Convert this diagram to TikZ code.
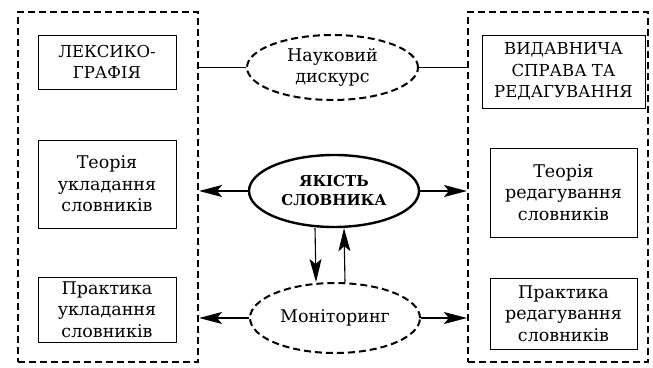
\documentclass[tikz,border=0pt]{standalone}
\usepackage{fontspec}
\setmainfont{DejaVu Serif}
\usetikzlibrary{arrows.meta,shapes.geometric}

\begin{document}
\begin{tikzpicture}
  [x=1pt,y=-1pt,
   every node/.style={align=center,inner sep=0pt,font=\fontsize{17.5}{21.5}\selectfont},
   caps/.style={font=\fontsize{16.5}{21.5}\selectfont},
   frame/.style={draw,line width=2.2pt,dash pattern=on 7pt off 4pt},
   box/.style={draw,line width=1pt},
   oval/.style={ellipse,draw,line width=2pt,dash pattern=on 7pt off 4pt},
   link/.style={line width=1.1pt},
   arr/.style={line width=1.1pt,-{Stealth[length=23pt,width=12pt,inset=5pt]}}]
  \useasboundingbox (0,0) rectangle (653,367);

  \node (fl)[frame,minimum width=180pt,minimum height=350pt] at (108,187) {};
  \node (fr)[frame,minimum width=180pt,minimum height=350pt] at (558,187) {};

  \node (n1)[box,caps,minimum width=138pt,minimum height=54pt] at (107,62) {ЛЕКСИКО-\\ГРАФІЯ};
  \node (n2)[box,minimum width=138pt,minimum height=88pt] at (107,184) {Теорія\\укладання\\словників};
  \node (n3)[box,minimum width=138pt,minimum height=65pt] at (107,309.5) {Практика\\укладання\\словників};

  \node (n4)[box,caps,minimum width=163pt,minimum height=73pt] at (563.5,71.5) {ВИДАВНИЧА\\СПРАВА ТА\\РЕДАГУВАННЯ};
  \node (n5)[box,minimum width=147pt,minimum height=89pt] at (563.5,192.5) {Теорія\\редагування\\словників};
  \node (n6)[box,minimum width=147pt,minimum height=71pt] at (563.5,313.5) {Практика\\редагування\\словників};

  \node (e1)[oval,minimum width=171pt,minimum height=65pt] at (332.5,67.5) {Науковий\\дискурс};
  \node (e2)[ellipse,draw,line width=2.4pt,minimum width=170pt,minimum height=72pt,
             font=\bfseries\fontsize{15}{19}\selectfont] at (334,191) {ЯКІСТЬ\\СЛОВНИКА};
  \node (e3)[oval,minimum width=170pt,minimum height=70pt] at (335,318) {Моніторинг};

  \foreach \from/\to in {e1/fl.east,e1/fr.west}
    \draw [link] (\from) -- (\to |- \from);
  \foreach \from/\to in {e2/fl.east,e2/fr.west,e3/fl.east,e3/fr.west}
    \draw [arr] (\from) -- (\to |- \from);
  \draw [arr] ([xshift=-19pt]e2.south) -- ([xshift=-19pt]e3.north);
  \draw [arr] ([xshift=10pt]e3.north) -- ([xshift=10pt]e2.south);
\end{tikzpicture}
\end{document}
